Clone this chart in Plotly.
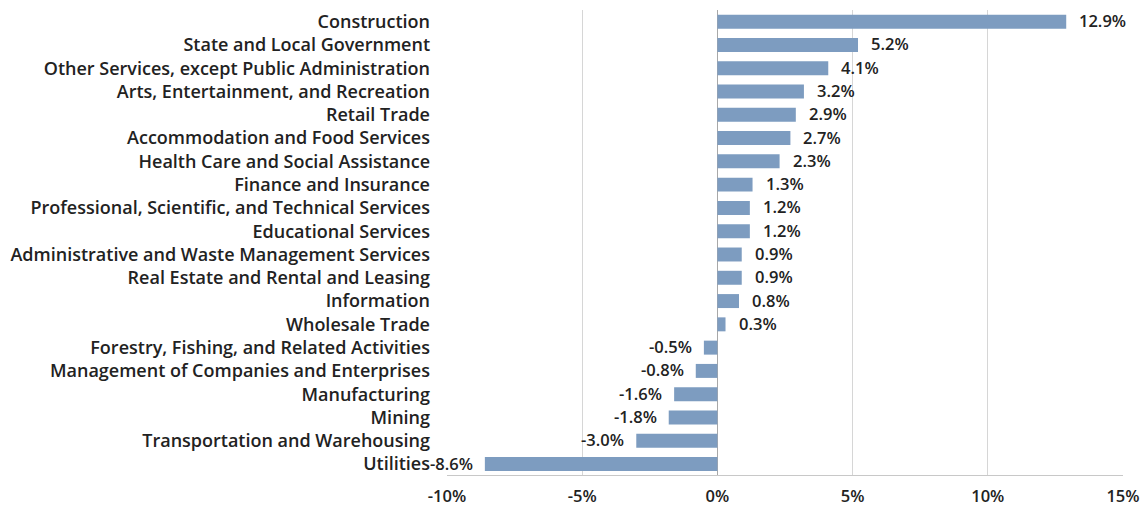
import plotly.graph_objects as go

# Industries, listed top to bottom
industries = [
    "Construction",
    "State and Local Government",
    "Other Services, except Public Administration",
    "Arts, Entertainment, and Recreation",
    "Retail Trade",
    "Accommodation and Food Services",
    "Health Care and Social Assistance",
    "Finance and Insurance",
    "Professional, Scientific, and Technical Services",
    "Educational Services",
    "Administrative and Waste Management Services",
    "Real Estate and Rental and Leasing",
    "Information",
    "Wholesale Trade",
    "Forestry, Fishing, and Related Activities",
    "Management of Companies and Enterprises",
    "Manufacturing",
    "Mining",
    "Transportation and Warehousing",
    "Utilities",
]

# Percent change by industry
pct_change = [12.9, 5.2, 4.1, 3.2, 2.9, 2.7, 2.3, 1.3, 1.2, 1.2,
              0.9, 0.9, 0.8, 0.3, -0.5, -0.8, -1.6, -1.8, -3.0, -8.6]

x_ticks = [-10, -5, 0, 5, 10, 15]
x_tick_labels = ["-10%", "-5%", "0%", "5%", "10%", "15%"]

FONT = "Open Sans"
WEIGHT = 600
TEXT_COLOR = "#222222"
label_font = dict(family=FONT, size=18, weight=WEIGHT, color=TEXT_COLOR)
number_font = dict(family=FONT, size=16.5, weight=WEIGHT, color=TEXT_COLOR)

fig = go.Figure(
    go.Bar(
        x=pct_change,
        y=industries,
        orientation="h",
        marker=dict(color="#7d9cc0", line=dict(width=0)),
        width=0.6,
        hoverinfo="x+y",
    )
)

# Value labels beside each bar end
for name, v in zip(industries, pct_change):
    fig.add_annotation(
        x=v,
        y=name,
        text=f"{v:.1f}%",
        showarrow=False,
        xanchor="left" if v >= 0 else "right",
        xshift=11 if v >= 0 else -10,
        yshift=1,
        font=number_font,
    )

fig.update_layout(
    width=1144,
    height=508,
    margin=dict(l=447, r=21, t=10, b=33),
    paper_bgcolor="white",
    plot_bgcolor="white",
    showlegend=False,
    font=number_font,
    xaxis=dict(
        range=[-10, 15],
        tickvals=x_ticks,
        ticktext=x_tick_labels,
        showgrid=True,
        gridcolor="#d6d6d6",
        gridwidth=1,
        zeroline=True,
        zerolinecolor="#a8a8a8",
        zerolinewidth=1,
        showline=True,
        linecolor="#c8c8c8",
        linewidth=1,
        ticks="",
        ticklabelstandoff=6,
        automargin=False,
        tickfont=number_font,
    ),
    yaxis=dict(
        categoryorder="array",
        categoryarray=industries[::-1],
        range=[-0.47, 19.5],
        showgrid=False,
        zeroline=False,
        showline=False,
        ticks="",
        ticklabelstandoff=16,
        automargin=False,
        tickfont=label_font,
    ),
)

fig.write_html("out.html")
